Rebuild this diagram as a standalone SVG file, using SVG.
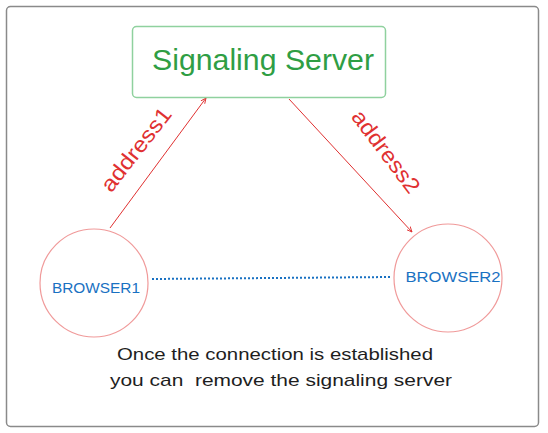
<svg xmlns="http://www.w3.org/2000/svg" width="548" height="433" viewBox="0 0 548 433">
<defs>
<style>
.frame{fill:#fff;stroke:#8a8a8a;stroke-width:1.5}
.srv{fill:#fff;stroke:#8fd19e;stroke-width:1.5}
.circ{fill:#fff;stroke:#f09a9a;stroke-width:1.2}
.arr{stroke:#e03131;stroke-width:1;fill:none}
.dot{stroke:#1971c2;stroke-width:2;stroke-dasharray:2 2;fill:none}
.t{font-family:"Liberation Sans",Arial,sans-serif}
.green{fill:#2f9e44;font-size:29px}
.red{fill:#e03131;font-size:22px}
.blue{fill:#1971c2;font-size:15px}
.blk{fill:#1e1e1e;font-size:17px}
</style>
<marker id="ah" viewBox="0 0 10 10" refX="9" refY="5" markerWidth="6" markerHeight="6" orient="auto">
<path d="M0,1 L9,5 L0,9" fill="none" stroke="#e03131" stroke-width="1.5"/>
</marker>
</defs>
<rect class="frame" x="6.5" y="6.5" width="532" height="420" rx="4"/>
<g id="connectors">
<line class="arr" x1="110" y1="228" x2="206" y2="98" marker-end="url(#ah)"/>
<line class="arr" x1="289" y1="99" x2="412" y2="232" marker-end="url(#ah)"/>
<line class="dot" x1="152" y1="279" x2="392" y2="277"/>
<text class="t red" transform="translate(142,154) rotate(-52)" text-anchor="middle" textLength="100" lengthAdjust="spacingAndGlyphs">address1</text>
<text class="t red" transform="translate(380,156) rotate(53)" text-anchor="middle" textLength="98" lengthAdjust="spacingAndGlyphs">address2</text>
</g>
<g id="server">
<rect class="srv" x="132.5" y="26.5" width="253" height="71" rx="4"/>
<text class="t green" x="263" y="70" text-anchor="middle" textLength="222" lengthAdjust="spacingAndGlyphs">Signaling Server</text>
</g>
<g id="browser1">
<circle class="circ" cx="94" cy="283" r="54"/>
<text class="t blue" x="96" y="293" text-anchor="middle" textLength="88" lengthAdjust="spacingAndGlyphs">BROWSER1</text>
</g>
<g id="browser2">
<circle class="circ" cx="448" cy="278" r="54"/>
<text class="t blue" x="453" y="282" text-anchor="middle" textLength="95" lengthAdjust="spacingAndGlyphs">BROWSER2</text>
</g>
<g id="note">
<text class="t blk" x="117" y="360" textLength="316" lengthAdjust="spacingAndGlyphs">Once the connection is established</text>
<text class="t blk" x="110" y="386" xml:space="preserve" textLength="342" lengthAdjust="spacingAndGlyphs">you can  remove the signaling server</text>
</g>
</svg>
